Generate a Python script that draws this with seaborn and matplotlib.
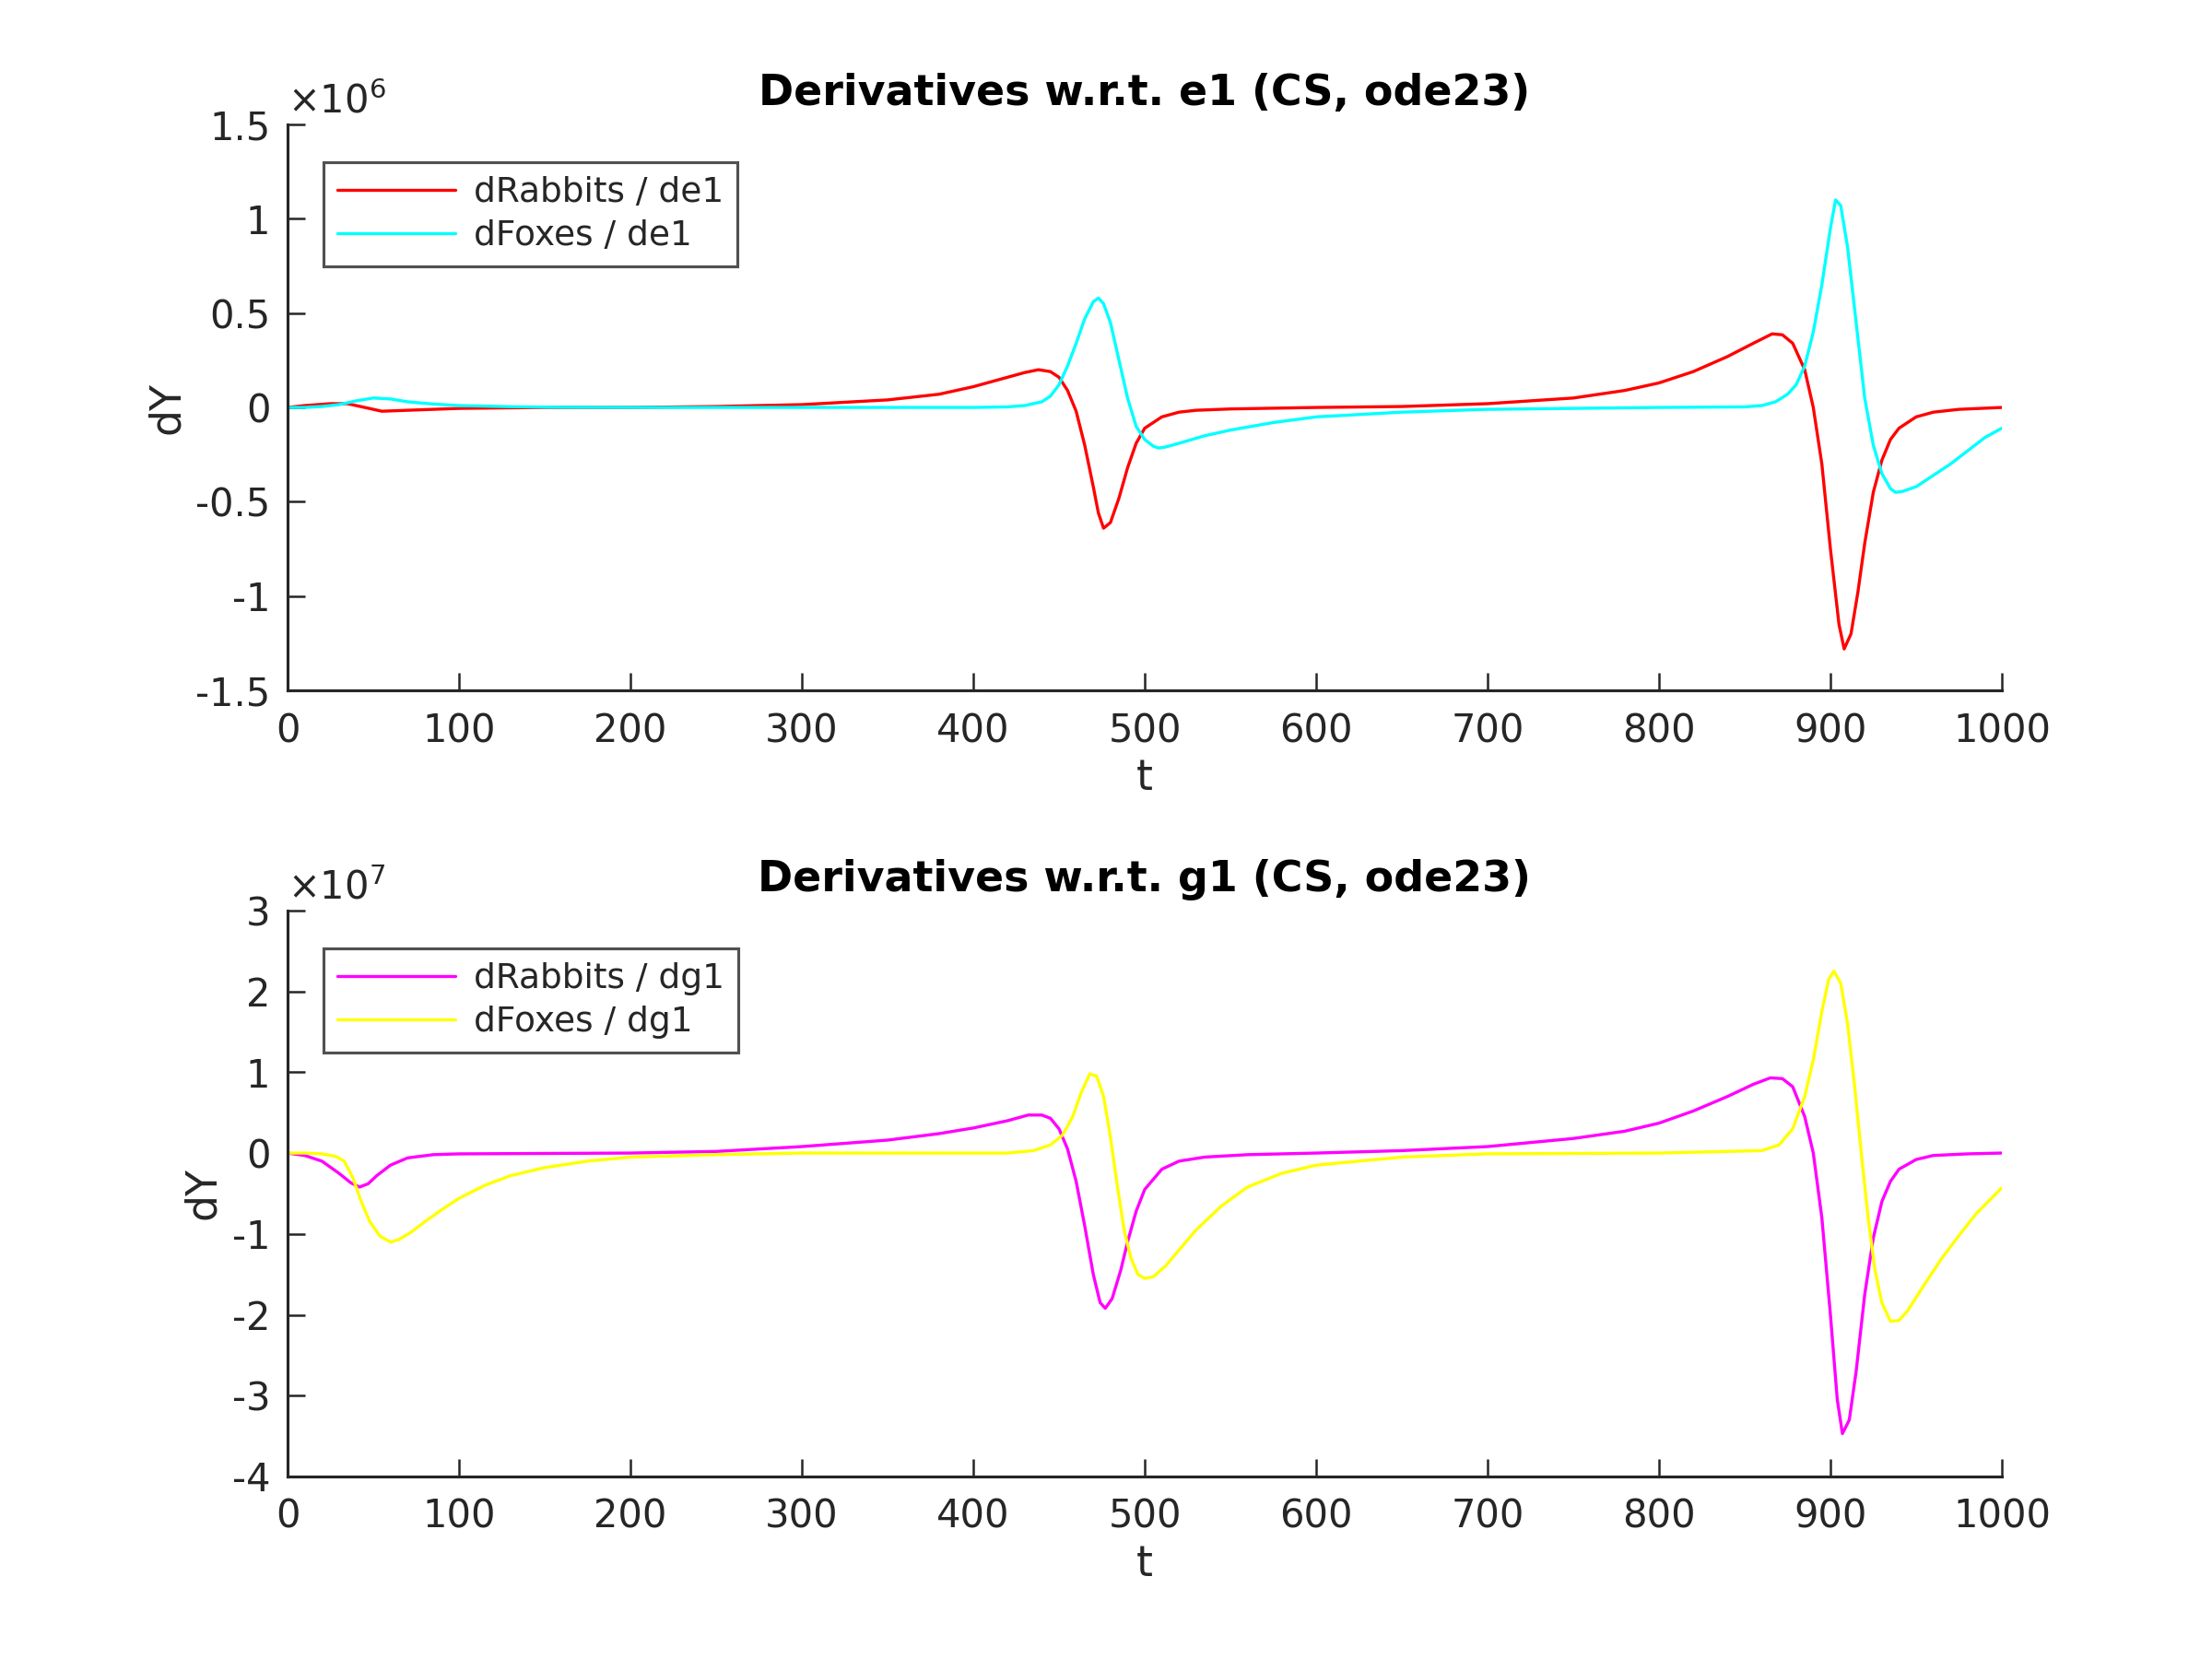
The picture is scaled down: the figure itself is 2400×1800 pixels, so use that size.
import numpy as np
import pandas as pd
import seaborn as sns
from matplotlib import pyplot as plt
from matplotlib.ticker import FixedLocator, FormatStrFormatter

# top panel, values in units of 1e6
t_r1 = [0, 10, 25, 35, 45, 55, 70, 100, 150, 200, 250, 300, 350, 380, 400, 420, 430, 438, 445, 450,
        455, 460, 465, 470, 473, 476, 480, 485, 490, 495, 500, 510, 520, 530, 550, 600, 650, 700,
        750, 780, 800, 820, 840, 855, 866, 872, 878, 885, 890, 895, 900, 905, 908, 912, 916, 920,
        925, 930, 935, 940, 950, 960, 975, 1000]
rabbits_de1 = [0, 0.01, 0.02, 0.02, 0.0, -0.02, -0.015, -0.005, 0.0, 0.0, 0.005, 0.015, 0.04, 0.07,
               0.11, 0.16, 0.185, 0.20, 0.19, 0.16, 0.09, -0.02, -0.2, -0.42, -0.56, -0.64, -0.61,
               -0.48, -0.32, -0.19, -0.11, -0.05, -0.025, -0.015, -0.008, 0.0, 0.005, 0.02, 0.05,
               0.09, 0.13, 0.19, 0.27, 0.34, 0.39, 0.385, 0.34, 0.2, 0.0, -0.3, -0.75, -1.15, -1.28,
               -1.2, -0.98, -0.72, -0.45, -0.28, -0.17, -0.11, -0.05, -0.025, -0.01, 0.0]

t_f1 = [0, 10, 20, 30, 40, 50, 60, 70, 85, 100, 130, 160, 200, 300, 400, 420, 430, 440, 445, 450,
        455, 460, 465, 470, 473, 476, 480, 485, 490, 495, 500, 505, 508, 512, 520, 535, 550, 575,
        600, 650, 700, 800, 850, 860, 868, 875, 880, 885, 890, 895, 900, 903, 906, 910, 915, 920,
        925, 930, 935, 938, 942, 950, 960, 970, 980, 990, 1000]
foxes_de1 = [0, 0.0, 0.005, 0.015, 0.035, 0.05, 0.045, 0.03, 0.018, 0.01, 0.004, 0.001, 0.0, 0.0,
             0.0, 0.003, 0.01, 0.03, 0.06, 0.12, 0.22, 0.34, 0.47, 0.56, 0.58, 0.55, 0.45, 0.25, 0.05,
             -0.1, -0.17, -0.205, -0.215, -0.21, -0.19, -0.15, -0.12, -0.08, -0.05, -0.025, -0.01,
             0.0, 0.003, 0.01, 0.03, 0.07, 0.12, 0.22, 0.4, 0.65, 0.95, 1.1, 1.07, 0.85, 0.45, 0.05,
             -0.2, -0.35, -0.43, -0.45, -0.445, -0.42, -0.36, -0.3, -0.23, -0.16, -0.11]

# bottom panel, values in units of 1e7
t_r2 = [0, 10, 20, 30, 37, 42, 47, 52, 60, 70, 85, 100, 200, 250, 300, 350, 380, 400, 420, 432,
        440, 445, 450, 455, 460, 465, 470, 474, 477, 481, 486, 490, 495, 500, 510, 520, 535, 560,
        600, 650, 700, 750, 780, 800, 820, 840, 855, 865, 872, 878, 885, 890, 895, 900, 904, 907,
        911, 915, 920, 925, 930, 935, 940, 950, 960, 980, 1000]
rabbits_dg1 = [0, -0.03, -0.1, -0.25, -0.37, -0.42, -0.38, -0.28, -0.15, -0.06, -0.02, -0.01, 0.0,
               0.02, 0.08, 0.16, 0.24, 0.31, 0.4, 0.47, 0.47, 0.43, 0.3, 0.05, -0.35, -0.9, -1.5,
               -1.85, -1.92, -1.8, -1.45, -1.1, -0.72, -0.45, -0.2, -0.1, -0.05, -0.02, 0.0, 0.03,
               0.08, 0.18, 0.27, 0.37, 0.52, 0.7, 0.85, 0.93, 0.92, 0.82, 0.45, 0.0, -0.8, -2.0,
               -3.05, -3.47, -3.3, -2.7, -1.75, -1.05, -0.6, -0.35, -0.2, -0.08, -0.03, -0.01, 0.0]

t_f2 = [0, 10, 20, 28, 33, 38, 43, 48, 54, 60, 65, 72, 80, 90, 100, 115, 130, 150, 175, 200, 250,
        300, 420, 435, 445, 452, 458, 463, 468, 472, 476, 480, 484, 488, 492, 496, 500, 505, 512,
        520, 530, 545, 560, 580, 600, 650, 700, 800, 860, 870, 878, 885, 890, 895, 899, 902, 906,
        910, 914, 918, 922, 926, 930, 935, 940, 945, 955, 965, 975, 985, 1000]
foxes_dg1 = [0, 0.0, -0.01, -0.04, -0.1, -0.3, -0.6, -0.85, -1.03, -1.1, -1.07, -0.98, -0.85,
             -0.7, -0.56, -0.4, -0.28, -0.18, -0.1, -0.05, -0.02, 0.0, 0.0, 0.03, 0.1, 0.22, 0.45,
             0.75, 0.98, 0.95, 0.7, 0.2, -0.4, -0.95, -1.3, -1.5, -1.55, -1.53, -1.4, -1.2, -0.95,
             -0.65, -0.42, -0.25, -0.15, -0.05, -0.01, 0.0, 0.03, 0.1, 0.3, 0.7, 1.15, 1.75, 2.15,
             2.25, 2.1, 1.6, 0.85, 0.0, -0.8, -1.45, -1.85, -2.08, -2.07, -1.95, -1.62, -1.3,
             -1.02, -0.75, -0.43]

x_ticks = list(range(0, 1001, 100))
y_ticks_top = [-1.5, -1, -0.5, 0, 0.5, 1, 1.5]
y_ticks_bottom = [-4, -3, -2, -1, 0, 1, 2, 3]

sns.set_style('ticks')
plt.rcParams['font.family'] = ['DejaVu Sans']
plt.rcParams['axes.unicode_minus'] = False
plt.rcParams['mathtext.fontset'] = 'dejavusans'

dark = '#262626'
fig = plt.figure(figsize=(8, 6), dpi=300)
ax1 = fig.add_axes([0.13, 0.5838, 0.775, 0.3412])
ax2 = fig.add_axes([0.13, 0.11, 0.775, 0.3412])

panels = [
    (ax1, t_r1, rabbits_de1, t_f1, foxes_de1, 'de1', '#ff0000', '#00ffff', 'e1', 6, y_ticks_top),
    (ax2, t_r2, rabbits_dg1, t_f2, foxes_dg1, 'dg1', '#ff00ff', '#ffff00', 'g1', 7, y_ticks_bottom),
]

for ax, tr, yr, tf, yf, suffix, c_r, c_f, param, expo, yticks in panels:
    sns.lineplot(x=tr, y=yr, ax=ax, color=c_r, lw=0.8, label=f'dRabbits / {suffix}')
    sns.lineplot(x=tf, y=yf, ax=ax, color=c_f, lw=0.8, label=f'dFoxes / {suffix}')
    ax.set_xlim(0, 1000)
    ax.set_ylim(yticks[0], yticks[-1])
    ax.xaxis.set_major_locator(FixedLocator(x_ticks))
    ax.yaxis.set_major_locator(FixedLocator(yticks))
    ax.yaxis.set_major_formatter(FormatStrFormatter('%g'))
    ax.tick_params(direction='in', length=4.5, width=0.6, colors=dark, labelsize=10)
    ax.tick_params(axis='x', pad=5.5)
    ax.tick_params(axis='y', pad=4.5)
    for side in ['top', 'right']:
        ax.spines[side].set_visible(False)
    for side in ['left', 'bottom']:
        ax.spines[side].set_color(dark)
        ax.spines[side].set_linewidth(0.75)
    ax.set_xlabel('t', fontsize=11, color=dark, labelpad=2)
    ax.set_ylabel('dY', fontsize=11, color=dark, labelpad=2)
    ax.set_title(f'Derivatives w.r.t. {param} (CS, ode23)', fontsize=11, fontweight='bold',
                 color='black', pad=5)
    ax.text(0.0, 1.005, r'$\times10^{%d}$' % expo, transform=ax.transAxes, ha='left', va='bottom',
            fontsize=10, color=dark)
    leg = ax.legend(loc='upper left', bbox_to_anchor=(0.021, 0.933), borderaxespad=0,
                    fontsize=9, handlelength=3.4, frameon=True, fancybox=False,
                    borderpad=0.4, labelspacing=0.3, handletextpad=0.55)
    leg.get_frame().set_edgecolor(dark)
    leg.get_frame().set_linewidth(0.75)
    for txt in leg.get_texts():
        txt.set_color(dark)

fig.savefig('out.png', dpi=300, facecolor='white')
